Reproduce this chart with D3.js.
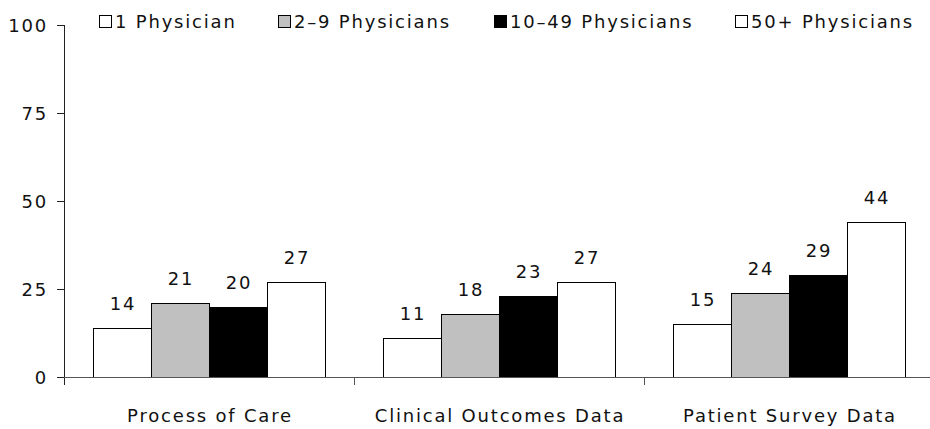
<!DOCTYPE html>
<html>
<head>
<meta charset="utf-8">
<script src="https://cdn.jsdelivr.net/npm/d3@7"></script>
<style>
  body { margin: 0; background: #fff; }
  text { font-family: "DejaVu Sans", sans-serif; fill: #111; letter-spacing: 1.8px; }
</style>
</head>
<body>
<svg width="930" height="429"></svg>
<script>
const categories = ['Process of Care', 'Clinical Outcomes Data', 'Patient Survey Data'];
const seriesNames = ['1 Physician', '2\u20139 Physicians', '10\u201349 Physicians', '50+ Physicians'];
const seriesColors = ['#ffffff', '#c0c0c0', '#000000', '#ffffff'];
const onePhysician = [14, 11, 15];
const twoToNine = [21, 18, 24];
const tenToFortyNine = [20, 23, 29];
const fiftyPlus = [27, 27, 44];
const yTicks = [0, 25, 50, 75, 100];

var seriesValues = [onePhysician, twoToNine, tenToFortyNine, fiftyPlus];
var svgElement = d3.select('svg');

var xScale = d3.scaleBand().domain(categories).range([64, 934]);
var innerScale = d3.scaleBand()
  .domain(d3.range(seriesNames.length))
  .range([0, xScale.bandwidth()])
  .paddingOuter(0.5);
var yScale = d3.scaleLinear().domain([0, 100]).range([377, 25]);

// y axis
svgElement.append('line')
  .attr('x1', 64.5).attr('x2', 64.5)
  .attr('y1', yScale(100)).attr('y2', yScale(0) + 8)
  .attr('stroke', '#222');
svgElement.selectAll('.ytick')
  .data(yTicks)
  .enter()
  .append('line')
  .attr('x1', 57).attr('x2', 64)
  .attr('y1', function (d) { return yScale(d) + 0.5; })
  .attr('y2', function (d) { return yScale(d) + 0.5; })
  .attr('stroke', '#222');
svgElement.selectAll('.ylabel')
  .data(yTicks)
  .enter()
  .append('text')
  .attr('x', 48)
  .attr('y', function (d) { return yScale(d) + 7; })
  .attr('text-anchor', 'end')
  .attr('font-size', 18)
  .text(function (d) { return d; });

// bars
var groups = svgElement.selectAll('.group')
  .data(categories)
  .enter()
  .append('g')
  .attr('transform', function (d) { return 'translate(' + xScale(d) + ',0)'; });

groups.selectAll('rect')
  .data(function (d, i) {
    return seriesValues.map(function (s, j) { return { s: j, v: s[i] }; });
  })
  .enter()
  .append('rect')
  .attr('x', function (d) { return innerScale(d.s) + 0.5; })
  .attr('y', function (d) { return Math.round(yScale(d.v)) + 0.5; })
  .attr('width', innerScale.bandwidth())
  .attr('height', function (d) { return Math.round(yScale(0)) - Math.round(yScale(d.v)); })
  .attr('fill', function (d) { return seriesColors[d.s]; })
  .attr('stroke', '#000');

groups.selectAll('.val')
  .data(function (d, i) {
    return seriesValues.map(function (s, j) { return { s: j, v: s[i] }; });
  })
  .enter()
  .append('text')
  .attr('x', function (d) { return innerScale(d.s) + innerScale.bandwidth() / 2 + 1; })
  .attr('y', function (d) { return yScale(d.v) - 18; })
  .attr('text-anchor', 'middle')
  .attr('font-size', 18)
  .text(function (d) { return d.v; });

// x axis
svgElement.append('line')
  .attr('x1', 64).attr('x2', 930)
  .attr('y1', yScale(0) + 0.5).attr('y2', yScale(0) + 0.5)
  .attr('stroke', '#555');
svgElement.selectAll('.xtick')
  .data(categories.slice(1))
  .enter()
  .append('line')
  .attr('x1', function (d) { return xScale(d) + 0.5; })
  .attr('x2', function (d) { return xScale(d) + 0.5; })
  .attr('y1', yScale(0)).attr('y2', yScale(0) + 8)
  .attr('stroke', '#555');
svgElement.selectAll('.xlabel')
  .data(categories)
  .enter()
  .append('text')
  .attr('x', function (d) { return xScale(d) + xScale.bandwidth() / 2 + 1; })
  .attr('y', 422)
  .attr('text-anchor', 'middle')
  .attr('font-size', 18)
  .text(function (d) { return d; });

// legend
var legendX = [99, 278, 494, 735];
var legend = svgElement.selectAll('.legend')
  .data(seriesNames)
  .enter()
  .append('g')
  .attr('transform', function (d, i) { return 'translate(' + legendX[i] + ',15)'; });
legend.append('rect')
  .attr('x', 0.5).attr('y', 0.5)
  .attr('width', 12).attr('height', 12)
  .attr('fill', function (d, i) { return seriesColors[i]; })
  .attr('stroke', '#000');
legend.append('text')
  .attr('x', 16)
  .attr('y', 12.5)
  .attr('font-size', 18)
  .text(function (d) { return d; });
</script>
</body>
</html>
